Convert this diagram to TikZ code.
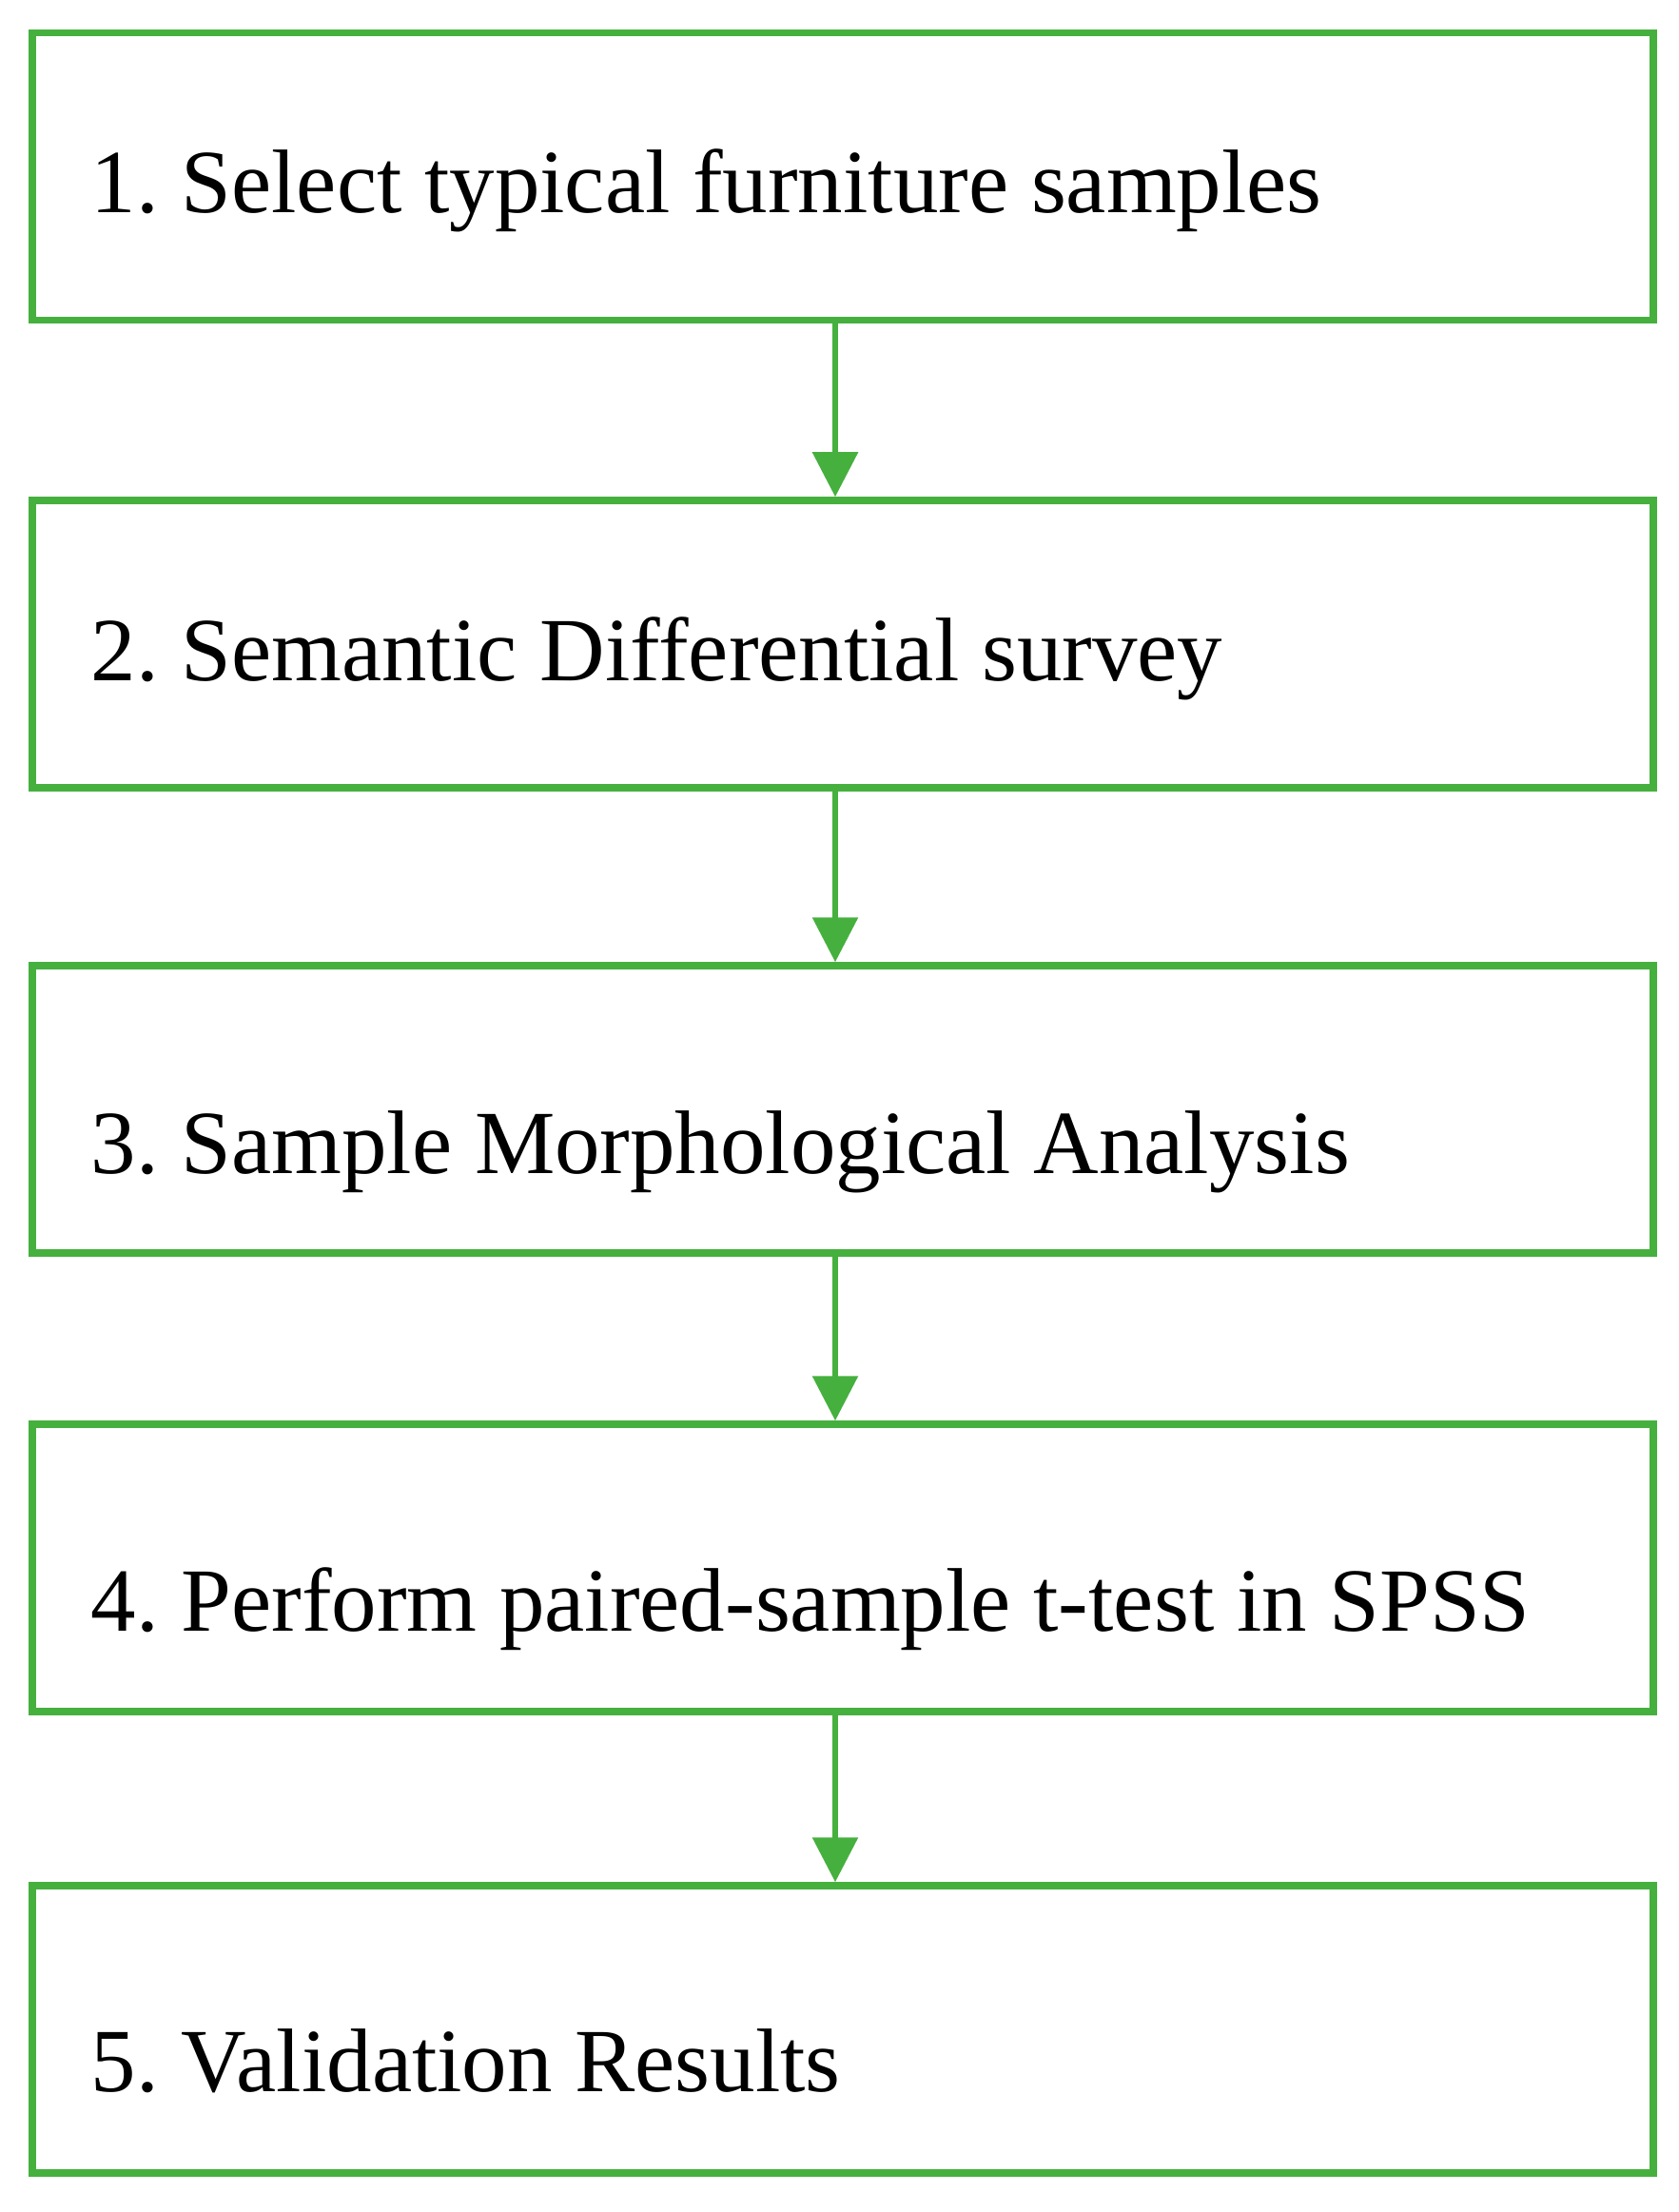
\documentclass[tikz,border=0pt]{standalone}
\usepackage{fontspec}
\setmainfont{Liberation Serif}
\usetikzlibrary{arrows.meta}
\definecolor{flowgreen}{RGB}{70,176,62}
\frenchspacing

\begin{document}
\begin{tikzpicture}[>={Triangle[length=4.7mm,width=4.7mm]},
    stepbox/.style={draw=flowgreen, line width=0.75mm, minimum width=17.04cm, minimum height=3.02cm, inner sep=0pt},
    steptext/.style={anchor=base west, inner sep=0pt, font=\fontsize{27}{32}\selectfont},
    flow/.style={->, draw=flowgreen, fill=flowgreen, line width=0.6mm}]
      \useasboundingbox (0,0) rectangle (17.64,-23.25);

      \node[stepbox] (B1) at (8.86,-1.855) {};
      \node[stepbox] (B2) at (8.86,-6.77) {};
      \node[stepbox] (B3) at (8.86,-11.66) {};
      \node[stepbox] (B4) at (8.86,-16.48) {};
      \node[stepbox] (B5) at (8.86,-21.33) {};

      \node[steptext] (T1) at (0.95,-2.24) {1. Select typical furniture samples};
      \node[steptext] (T2) at (0.95,-7.16) {2. Semantic Differential survey};
      \node[steptext] (T3) at (0.95,-12.33) {3. Sample Morphological Analysis};
      \node[steptext] (T4) at (0.95,-17.14) {4. Perform paired-sample t-test in SPSS};
      \node[steptext] (T5) at (0.95,-21.98) {5. Validation Results};

      \foreach \a/\b in {B1/B2, B2/B3, B3/B4, B4/B5}
        \draw[flow] ([xshift=-0.08cm]\a.south) -- ([xshift=-0.08cm]\b.north);
    \end{tikzpicture}
\end{document}
